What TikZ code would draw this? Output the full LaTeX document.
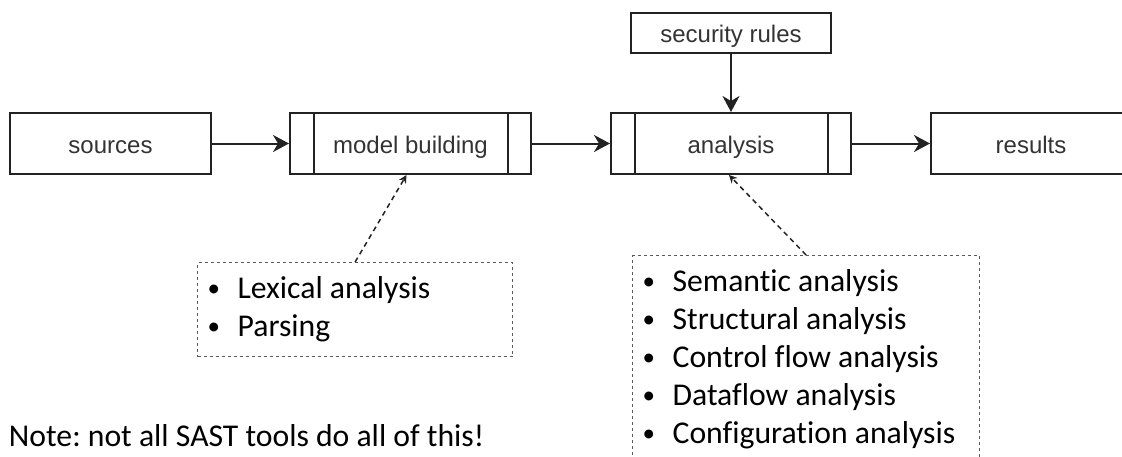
\documentclass[tikz,border=0pt]{standalone}
\usepackage{fontspec}
\setmainfont{Carlito}[Ligatures=NoCommon]
\newfontfamily\boxfont{Liberation Sans}
\usetikzlibrary{arrows.meta}

\definecolor{linegray}{RGB}{34,34,34}
\definecolor{textgray}{RGB}{51,51,51}
\definecolor{dashgray}{RGB}{90,90,90}

\frenchspacing
\newcommand{\bitem}[1]{\makebox[30pt][l]{\raisebox{2pt}{\fontsize{25}{25}\selectfont\textbullet}}#1}

\begin{document}
\begin{tikzpicture}[
    x=1pt, y=-1pt,
    line width=2pt,
    stage/.style={draw=linegray, rectangle, minimum height=61pt, inner sep=0pt,
      text height=21pt, text depth=2pt,
      text=textgray, font=\boxfont\fontsize{24}{28}\selectfont},
    flow/.style={draw=linegray, -{Stealth[length=16pt,width=17pt,inset=5pt]}},
    listbox/.style={draw=dashgray, line width=1.2pt, dash pattern=on 3pt off 3pt,
      anchor=north west, inner xsep=10pt, inner ysep=9pt,
      font=\fontsize{31.7}{38}\selectfont},
    dep/.style={draw=linegray, line width=1.5pt, dash pattern=on 5pt off 4pt,
      -{Stealth[length=8pt,width=8pt]}}
  ]

    \useasboundingbox (0,0) rectangle (1122,456);
    \clip (0,0) rectangle (1122,456);

    % 1. Stages
    \node[stage, minimum width=201pt] (src) at (110.5,143.5) {sources};
    \node[stage, minimum width=241pt] (mb)  at (410.5,143.5) {model building};
    \node[stage, minimum width=240pt] (an)  at (731,143.5) {analysis};
    \node[stage, minimum width=200pt, minimum height=40pt] (sec) at (731,33) {security rules};
    \node[stage, minimum width=200pt] (res) at (1031,143.5) {results};

    % 2. Side bars of the process boxes
    \foreach \n in {mb,an} {
        \draw[linegray] ([xshift=24.5pt]\n.north west) -- ([xshift=24.5pt]\n.south west);
        \draw[linegray] ([xshift=-24.5pt]\n.north east) -- ([xshift=-24.5pt]\n.south east);
    }

    % 3. Flow
    \draw[flow] (src) -- (mb);
    \draw[flow] (mb) -- (an);
    \draw[flow] (an) -- (res);
    \draw[flow] (sec) -- (an);

    % 4. Lists of steps
    \node[listbox] (lexbox) at (197,262) {%
      \begin{tabular}[t]{@{}p{295pt}@{}}
        \bitem{Lexical analysis}\\
        \bitem{Parsing}
      \end{tabular}};
    \node[listbox] (anbox) at (632,255) {%
      \begin{tabular}[t]{@{}p{327pt}@{}}
        \bitem{Semantic analysis}\\
        \bitem{Structural analysis}\\
        \bitem{Control flow analysis}\\
        \bitem{Dataflow analysis}\\
        \bitem{Configuration analysis}
      \end{tabular}};

    \draw[dep] (lexbox.north) -- ([xshift=-4pt]mb.south);
    \draw[dep] (anbox.north) -- ([xshift=-2pt]an.south);

    % 5. Note
    \node[anchor=base west, inner sep=0pt, font=\fontsize{31.7}{38}\selectfont] (note)
      at (8,446) {Note: not all SAST tools do all of this!};

\end{tikzpicture}
\end{document}
